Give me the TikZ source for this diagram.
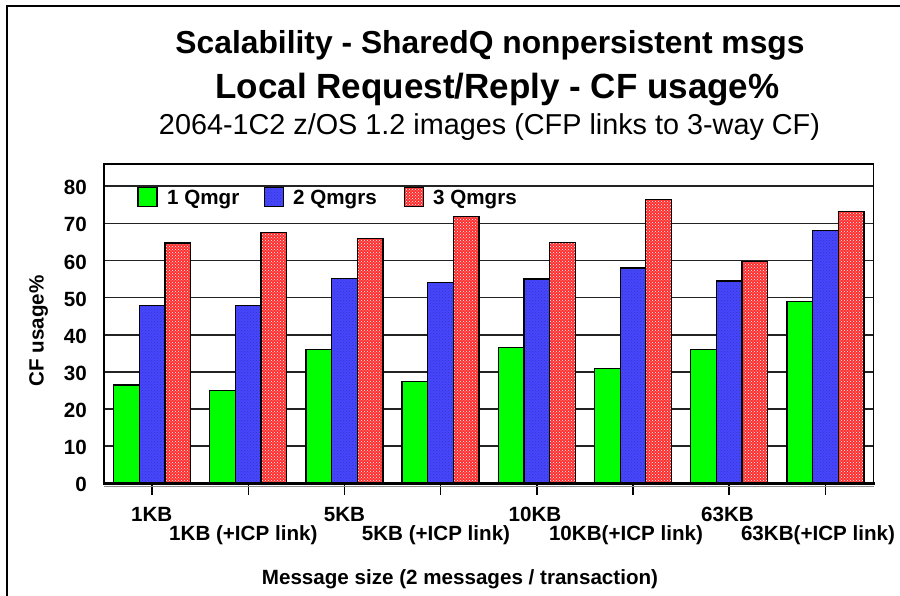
\documentclass[tikz,border=0pt]{standalone}
\usepackage{fontspec}
\setmainfont{Liberation Sans}
\usetikzlibrary{patterns}
\definecolor{barGreen}{RGB}{0,255,0}
\definecolor{barBlue}{RGB}{70,70,255}
\definecolor{barRed}{RGB}{255,45,45}
\definecolor{gridDark}{RGB}{35,35,35}
\begin{document}
\begin{tikzpicture}[x=1pt,y=-1pt,
  lbl/.style={font=\fontsize{20.6pt}{22pt}\selectfont\bfseries, inner sep=0pt, anchor=base},
  ylbl/.style={lbl, anchor=base east},
  barbox/.style={draw=black, line width=1.3pt},
  grnbar/.style={barbox, fill=barGreen},
  blubar/.style={barbox, preaction={fill=barBlue}, preaction={pattern=crosshatch dots, pattern color=barBlue!75!black}},
  redbar/.style={barbox, preaction={fill=barRed}, preaction={pattern=crosshatch dots, pattern color=white}},
  gridline/.style={draw=gridDark, line width=1.6pt},
  tickmark/.style={draw=black, line width=1.4pt}]
\useasboundingbox (0,0) rectangle (900,596);

% outer frame (open to the right and bottom)
\draw[line width=2pt] (7,596) -- (7,6) -- (900,6);

% titles
\node[inner sep=0pt, anchor=base, font=\fontsize{31.8pt}{34pt}\selectfont\bfseries] (t1) at (490,54) {Scalability - SharedQ nonpersistent msgs};
\node[inner sep=0pt, anchor=base, font=\fontsize{35pt}{38pt}\selectfont\bfseries] (t2) at (497.5,99) {Local Request/Reply - CF usage\%};
\node[inner sep=0pt, anchor=base, font=\fontsize{28.8pt}{31pt}\selectfont] (t3) at (489.5,134.3) {2064-1C2 z/OS 1.2 images (CFP links to 3-way CF)};

% plot area and grid
\fill[white] (104,164) rectangle (873.5,483.3);
\foreach \v in {10,20,...,80}
  \draw[gridline] (104,{483.3-3.7125*\v}) -- (873.5,{483.3-3.7125*\v});
\foreach \v in {0,10,...,80}
  \node[ylbl] (y\v) at (87,{483.3-3.7125*\v+8.5}) {\v};

% bars: 1 Qmgr / 2 Qmgrs / 3 Qmgrs per message size
\foreach \ga/\gb/\gc [count=\i from 0] in
  {26.5/47.8/64.7, 25/47.8/67.6, 36/55.1/65.9, 27.5/54/71.8,
   36.5/55/64.8, 31/58/76.5, 36/54.5/59.8, 49/68.1/73.3}{
  \pgfmathsetmacro\cx{104+96.18*(\i+0.5)}
  \draw[grnbar] ({\cx-38.5},483.3) rectangle ({\cx-12.8},{483.3-3.7125*\ga});
  \draw[blubar] ({\cx-12.8},483.3) rectangle ({\cx+12.8},{483.3-3.7125*\gb});
  \draw[redbar] ({\cx+12.8},483.3) rectangle ({\cx+38.5},{483.3-3.7125*\gc});
  \draw[tickmark] (\cx,483.3) -- (\cx,495);
}

% plot frame and base line
\draw[line width=1.8pt] (104,483.3) -- (104,164) -- (873.5,164) -- (873.5,483.3);
\draw[black!45, line width=1.4pt] (104,486.5) -- (874,486.5);
\draw[black, line width=3pt] (103,483.3) -- (874.5,483.3);

% legend
\node[grnbar, minimum width=19pt, minimum height=19pt, inner sep=0pt, anchor=north west] (k1) at (137.3,186.7) {};
\node[lbl, anchor=base west] (k1t) at (167,205) {1 Qmgr};
\node[blubar, minimum width=19pt, minimum height=19pt, inner sep=0pt, anchor=north west] (k2) at (264,186.7) {};
\node[lbl, anchor=base west] (k2t) at (293,205) {2 Qmgrs};
\node[redbar, minimum width=19pt, minimum height=19pt, inner sep=0pt, anchor=north west] (k3) at (404,186.7) {};
\node[lbl, anchor=base west] (k3t) at (433,205) {3 Qmgrs};

% axis titles and category labels
\node[lbl, rotate=90] (ytitle) at (43.5,331) {CF usage\%};
\node[lbl] (c1) at (151.7,521) {1KB};
\node[lbl] (c3) at (344.5,521) {5KB};
\node[lbl] (c5) at (535,521) {10KB};
\node[lbl] (c7) at (727.5,521) {63KB};
\node[lbl] (c2) at (243.3,540) {1KB (+ICP link)};
\node[lbl] (c4) at (436,540) {5KB (+ICP link)};
\node[lbl] (c6) at (626,540) {10KB(+ICP link)};
\node[lbl] (c8) at (818,540) {63KB(+ICP link)};
\node[lbl] (xtitle) at (460,584) {Message size (2 messages / transaction)};
\end{tikzpicture}
\end{document}
